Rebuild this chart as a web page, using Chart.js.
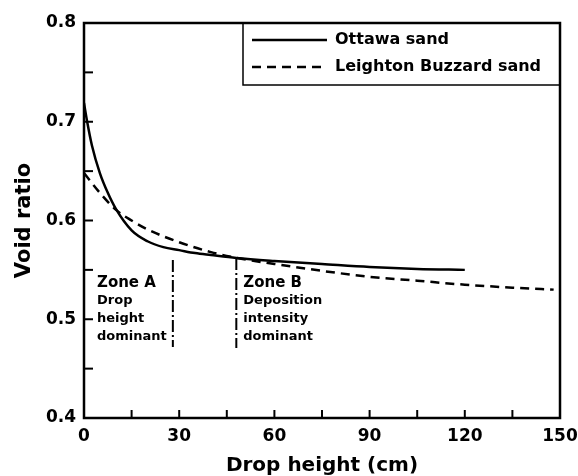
<!DOCTYPE html>
<html lang="en">
<head>
  <meta charset="UTF-8" />
  <title>Void ratio vs drop height</title>
  <script src="https://cdn.jsdelivr.net/npm/chart.js"></script>
  <style>
    html, body { margin: 0; padding: 0; background: #fff; }
    #wrap { width: 578px; height: 476px; }
  </style>
</head>
<body>
  <div id="wrap"><canvas id="voidChart"></canvas></div>

  <script>
// data
const ottawaHeight = [0, 1, 2.5, 5, 7.5, 10, 15, 20, 25, 30, 35, 40, 48, 60, 75, 90, 105, 120];
const ottawaVoid   = [0.719, 0.700, 0.676, 0.648, 0.628, 0.612, 0.590, 0.579, 0.573, 0.570, 0.567, 0.565, 0.562, 0.559, 0.556, 0.553, 0.551, 0.550];

const leightonHeight = [0, 5, 10, 15, 20, 30, 40, 50, 60, 75, 90, 105, 120, 135, 148];
const leightonVoid   = [0.648, 0.628, 0.611, 0.600, 0.591, 0.578, 0.568, 0.561, 0.556, 0.549, 0.543, 0.539, 0.535, 0.532, 0.530];

// zone boundary lines (x, top, bottom)
const zoneLineX = [28, 48];
const zoneLineTop = [0.560, 0.562];
const zoneLineBottom = [0.472, 0.471];

const zoneTitles = ['Zone A', 'Zone B'];
const zoneNotes = [['Drop', 'height', 'dominant'], ['Deposition', 'intensity', 'dominant']];
const zoneTextX = [4.1, 50.2];
const zoneTextY = 0.537;

const xTicks = [0, 30, 60, 90, 120, 150];
const yTicks = [0.4, 0.5, 0.6, 0.7, 0.8];
const seriesNames = ['Ottawa sand', 'Leighton Buzzard sand'];

const FONT = "'DejaVu Sans', sans-serif";

function pts(xs, ys) {
    return xs.map((x, i) => ({ x: x, y: ys[i] }));
}

const zoneSets = zoneLineX.map((x, i) => ({
    label: 'zone' + i,
    data: [{ x: x, y: zoneLineTop[i] }, { x: x, y: zoneLineBottom[i] }],
    borderColor: '#000',
    borderWidth: 2,
    borderDash: [12, 3, 2, 3],
    pointRadius: 0,
    showLine: true
}));

// frame, inward ticks, legend box and zone labels
const decorations = {
    id: 'decorations',
    afterDatasetsDraw(chart) {
        const { ctx, chartArea: a, scales: { x, y } } = chart;
        ctx.save();
        ctx.strokeStyle = '#000';

        // inward ticks: majors + minors
        ctx.lineWidth = 2;
        for (let v = 0; v <= 150; v += 15) {
            const px = x.getPixelForValue(v);
            ctx.beginPath();
            ctx.moveTo(px, a.bottom);
            ctx.lineTo(px, a.bottom - 8);
            ctx.stroke();
        }
        for (let v = 0.4; v <= 0.801; v += 0.05) {
            const py = y.getPixelForValue(v);
            ctx.beginPath();
            ctx.moveTo(a.left, py);
            ctx.lineTo(a.left + 9, py);
            ctx.stroke();
        }

        // frame
        ctx.lineWidth = 2.5;
        ctx.strokeRect(a.left, a.top, a.right - a.left, a.bottom - a.top);

        // legend box
        const lx = 243, ly = a.top, lw = a.right - lx, lh = 62;
        ctx.lineWidth = 1.5;
        ctx.strokeRect(lx, ly, lw, lh);
        ctx.font = 'bold 16px ' + FONT;
        ctx.fillStyle = '#000';
        ctx.textBaseline = 'middle';
        const rows = [ly + 17, ly + 44];
        chart.data.datasets.slice(0, 2).forEach((ds, i) => {
            ctx.lineWidth = 2.5;
            ctx.setLineDash(ds.borderDash || []);
            ctx.beginPath();
            ctx.moveTo(252, rows[i]);
            ctx.lineTo(327, rows[i]);
            ctx.stroke();
            ctx.setLineDash([]);
            ctx.fillText(ds.label, 335, rows[i]);
        });

        // zone labels
        zoneTitles.forEach((t, i) => {
            const tx = x.getPixelForValue(zoneTextX[i]);
            let ty = y.getPixelForValue(zoneTextY);
            ctx.font = 'bold 15px ' + FONT;
            ctx.fillText(t, tx, ty);
            ctx.font = 'bold 13px ' + FONT;
            zoneNotes[i].forEach(s => {
                ty += 18;
                ctx.fillText(s, tx, ty);
            });
        });
        ctx.restore();
    }
};

new Chart(document.getElementById('voidChart'), {
    type: 'scatter',
    data: {
        datasets: [
            {
                label: seriesNames[0],
                data: pts(ottawaHeight, ottawaVoid),
                borderColor: '#000',
                borderWidth: 2.5,
                pointRadius: 0,
                showLine: true,
                cubicInterpolationMode: 'monotone'
            },
            {
                label: seriesNames[1],
                data: pts(leightonHeight, leightonVoid),
                borderColor: '#000',
                borderWidth: 2.5,
                borderDash: [9, 6],
                pointRadius: 0,
                showLine: true,
                cubicInterpolationMode: 'monotone'
            },
            ...zoneSets
        ]
    },
    options: {
        responsive: true,
        maintainAspectRatio: false,
        animation: false,
        layout: { padding: { top: 23, right: 18, left: 0, bottom: 0 } },
        plugins: {
            legend: { display: false },
            tooltip: { enabled: false }
        },
        scales: {
            x: {
                type: 'linear',
                min: 0,
                max: 150,
                afterBuildTicks: s => { s.ticks = xTicks.map(v => ({ value: v })); },
                afterFit: s => { s.height = 58; s.paddingLeft = 0; s.paddingRight = 0; },
                grid: { display: false, drawTicks: false },
                border: { display: false },
                ticks: {
                    padding: 8,
                    color: '#000',
                    font: { family: FONT, size: 17, weight: 'bold' }
                },
                title: {
                    display: true,
                    text: 'Drop height (cm)',
                    color: '#000',
                    padding: { top: 0, bottom: 0 },
                    font: { family: FONT, size: 20, weight: 'bold', lineHeight: 1 }
                }
            },
            y: {
                type: 'linear',
                min: 0.4,
                max: 0.8,
                afterBuildTicks: s => { s.ticks = yTicks.map(v => ({ value: v })); },
                afterFit: s => { s.width = 84; s.paddingTop = 0; s.paddingBottom = 0; },
                grid: { display: false, drawTicks: false },
                border: { display: false },
                ticks: {
                    padding: 8,
                    color: '#000',
                    font: { family: FONT, size: 17, weight: 'bold' },
                    callback: v => v.toFixed(1)
                },
                title: {
                    display: true,
                    text: 'Void ratio',
                    color: '#000',
                    padding: { top: 14, bottom: 0 },
                    font: { family: FONT, size: 21, weight: 'bold', lineHeight: 1 }
                }
            }
        }
    },
    plugins: [decorations]
});
  </script>
</body>
</html>
